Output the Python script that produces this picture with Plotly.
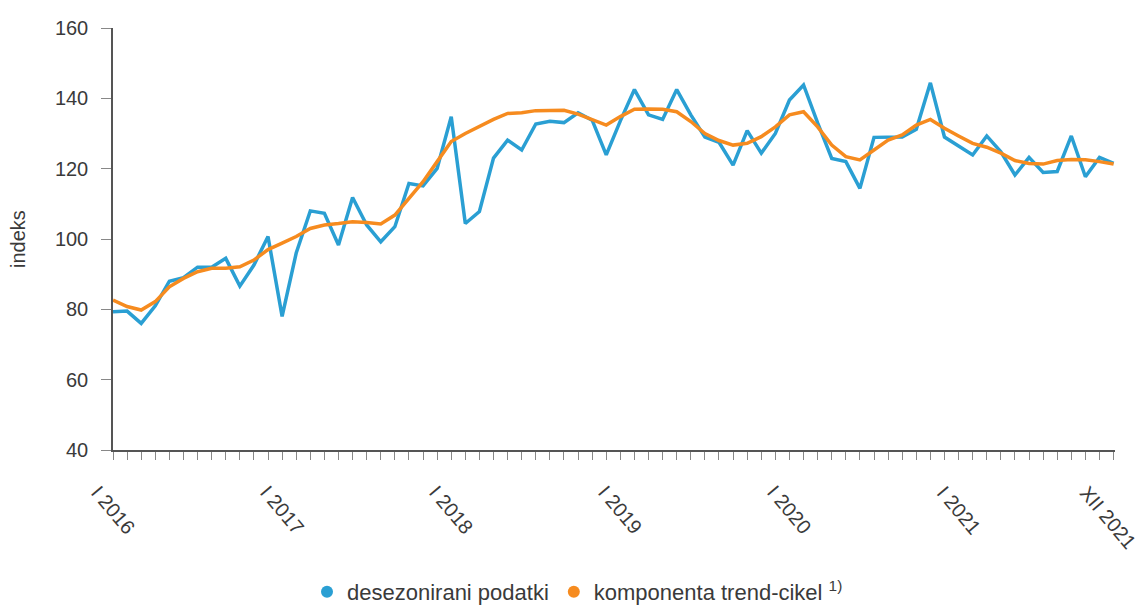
import plotly.graph_objects as go

months = list(range(72))
tick_vals = [0, 12, 24, 36, 48, 60, 71]
tick_text = ["I 2016", "I 2017", "I 2018", "I 2019", "I 2020", "I 2021", "XII 2021"]

desezonirani = [
    79.3, 79.5, 76.0, 81.0, 88.0, 89.0, 92.0, 92.0, 94.5, 86.6, 92.6, 100.7,
    78.0, 96.0, 108.0, 107.3, 98.3, 111.8, 104.0, 99.2, 103.5, 115.8, 115.1, 120.1,
    134.8, 104.4, 107.8, 123.0, 128.1, 125.3, 132.7, 133.5, 133.1, 135.9, 133.8, 123.9,
    133.6, 142.5, 135.3, 134.0, 142.5, 135.3, 129.0, 127.5, 121.0, 130.8, 124.4, 130.0,
    139.5, 143.8, 133.0, 122.9, 122.0, 114.4, 128.9, 128.9, 129.0, 131.2, 144.4, 129.0,
    126.4, 123.9, 129.3, 124.8, 118.2, 123.2, 118.9, 119.2, 129.3, 117.7, 123.2, 121.5,
]
trend_cikel = [
    82.6, 80.8, 79.8, 82.2, 86.4, 88.8, 90.7, 91.7, 91.7, 92.1, 94.0, 97.0,
    98.8, 100.7, 103.0, 104.0, 104.4, 104.9, 104.7, 104.3, 106.8, 111.6, 116.3, 122.0,
    127.7, 130.0, 132.0, 134.0, 135.7, 135.9, 136.5, 136.5, 136.6, 135.5, 134.0, 132.4,
    134.8, 136.9, 137.0, 136.9, 136.2, 133.4, 130.0, 128.0, 126.7, 127.2, 129.1, 131.9,
    135.3, 136.2, 131.9, 126.7, 123.4, 122.5, 125.3, 128.1, 129.6, 132.4, 134.0, 131.5,
    129.3, 127.2, 126.1, 124.4, 122.3, 121.5, 121.3, 122.3, 122.6, 122.5, 122.0, 121.3,
]

blue = "#2A9FD3"
orange = "#F68B1F"
text_color = "#3a3a3a"
font_family = "Liberation Sans, Arial, sans-serif"

# page body adds an 8px offset, so the figure is sized to fill the window from there
W, H = 1136, 598
ML, MR, MT, MB = 105, 29, 20, 156
plot_w = W - ML - MR
plot_h = H - MT - MB

fig = go.Figure()
fig.add_trace(go.Scatter(x=months, y=desezonirani, mode="lines",
                         line=dict(color=blue, width=3.5), showlegend=False))
fig.add_trace(go.Scatter(x=months, y=trend_cikel, mode="lines",
                         line=dict(color=orange, width=3.5), showlegend=False))
fig.add_trace(go.Scatter(x=[None], y=[None], mode="markers", name="desezonirani podatki",
                         marker=dict(color=blue, size=17, symbol="circle")))
fig.add_trace(go.Scatter(x=[None], y=[None], mode="markers",
                         name="komponenta trend-cikel <sup>1)</sup>",
                         marker=dict(color=orange, size=17, symbol="circle")))

annotations = [dict(text="indeks", textangle=-90, xref="paper", yref="paper",
                    x=(10 - ML) / plot_w, y=0.5, xanchor="center", yanchor="middle",
                    showarrow=False, font=dict(size=20, color=text_color))]
for v, t in zip(tick_vals, tick_text):
    annotations.append(dict(text=t, textangle=50, xref="x", yref="paper",
                            x=v, y=-29 / plot_h, xanchor="center", yanchor="top",
                            xshift=-5 if v == tick_vals[-1] else 0,
                            showarrow=False, font=dict(size=20, color=text_color)))

fig.update_layout(
    width=W, height=H,
    margin=dict(l=ML, r=MR, t=MT, b=MB),
    plot_bgcolor="white", paper_bgcolor="white",
    font=dict(family=font_family, size=20, color=text_color),
    legend=dict(orientation="h", xref="container", yref="container",
                x=(569.5) / W, xanchor="center", y=(H - 584) / H, yanchor="middle",
                font=dict(size=22, color=text_color), itemwidth=30,
                itemsizing="constant"),
    annotations=annotations,
)
fig.update_xaxes(
    range=[0, 71.1], tickmode="array", tickvals=tick_vals, showticklabels=False,
    showgrid=False, zeroline=False, automargin=False,
    showline=True, linecolor="#555555", linewidth=1.5,
    ticks="outside", ticklen=8, tickcolor="#888888",
    minor=dict(tickvals=months, ticks="outside", ticklen=8, tickcolor="#888888", showgrid=False),
)
fig.update_yaxes(
    range=[40, 160], tickvals=[40, 60, 80, 100, 120, 140, 160], showgrid=False, zeroline=False,
    automargin=False, ticklabelstandoff=9,
    showline=True, linecolor="#555555", linewidth=1.5,
    ticks="outside", ticklen=10, tickcolor="#888888",
    tickfont=dict(size=20, color=text_color),
)

fig.write_html("out.html")
